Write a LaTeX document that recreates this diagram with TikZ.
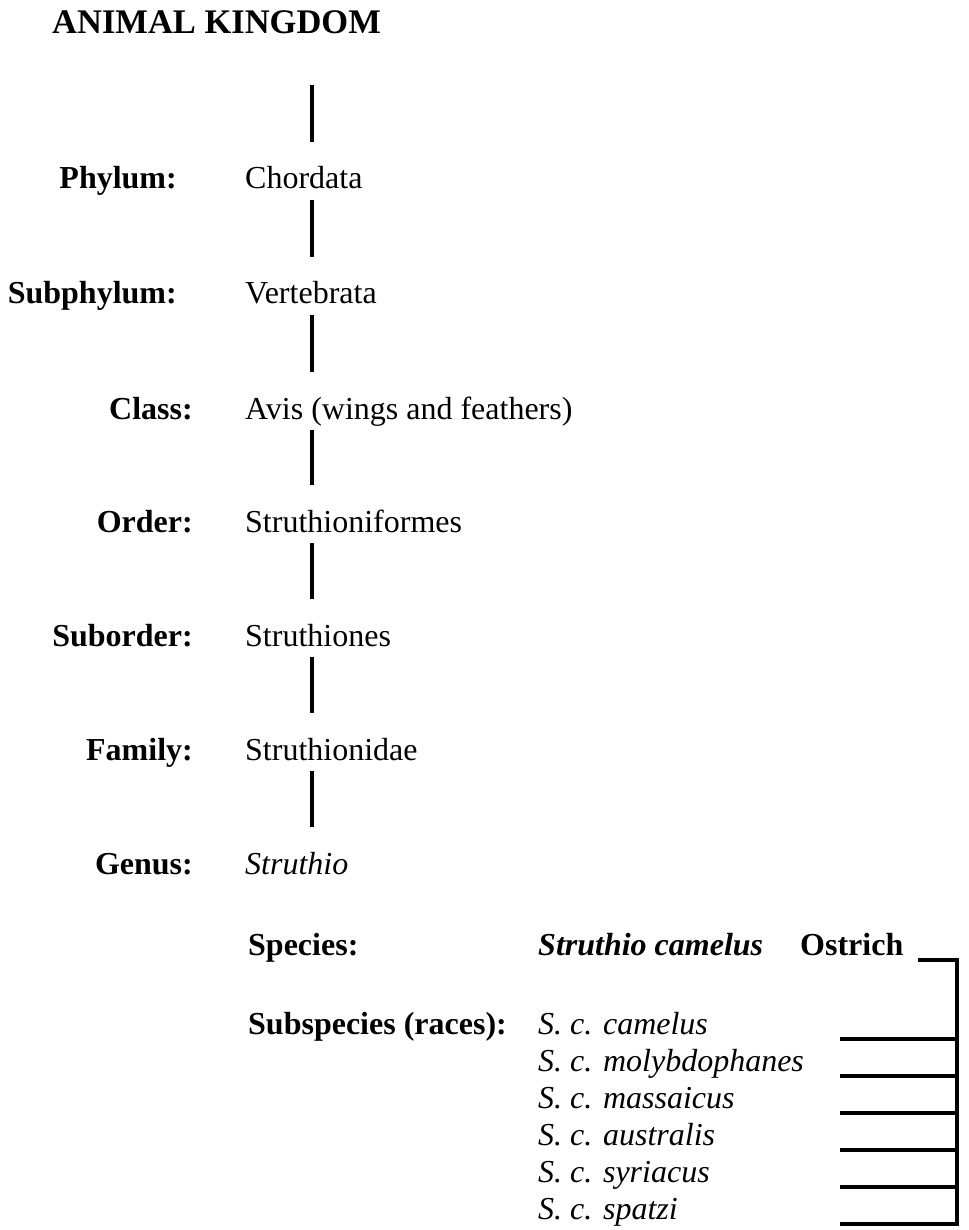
\documentclass[tikz,border=0pt]{standalone}
\usepackage{fontspec}
\setmainfont{Liberation Serif}

\tikzset{Rank/.style   = {font=\fontsize{32}{38}\selectfont\bfseries,
                          anchor=base east, inner sep=0pt},
         Taxon/.style  = {font=\fontsize{32}{38}\selectfont,
                          anchor=base west, inner sep=0pt,
                          text height=22pt, text depth=7pt},
         Race/.style   = {Taxon, font=\fontsize{32}{38}\selectfont\itshape},
         StemLine/.style = {line width=4.2pt, shorten <=4pt, shorten >=25pt},
         BarLine/.style  = {line width=4.2pt, line join=miter}}

\begin{document}
\begin{tikzpicture}[x=1pt,y=-1pt]

\useasboundingbox (0,0) rectangle (968,1230);

%%% title and the spine of the ranks
   \node[anchor=base west, inner sep=0pt, text depth=0pt,
         font=\fontsize{34.5}{40}\selectfont\bfseries] (kingdom) at (52,34) {ANIMAL KINGDOM};
   \coordinate (spine) at (312,0);

   \node[Rank]  (phylum)    at (177,189) {Phylum:};
   \node[Taxon] (chordata)  at (245,189) {Chordata};

   \node[Rank]  (subphylum) at (177,304) {Subphylum:};
   \node[Taxon] (vertebr)   at (245,304) {Vertebrata};

   \node[Rank]  (class)     at (193,419) {Class:};
   \node[Taxon] (avis)      at (245,419) {Avis (wings and feathers)};

   \node[Rank]  (order)     at (193,532) {Order:};
   \node[Taxon] (struthfm)  at (245,532) {Struthioniformes};

   \node[Rank]  (suborder)  at (193,646) {Suborder:};
   \node[Taxon] (struthns)  at (245,646) {Struthiones};

   \node[Rank]  (family)    at (193,760) {Family:};
   \node[Taxon] (struthdae) at (245,760) {Struthionidae};

   \node[Rank]  (genus)     at (193,874) {Genus:};
   \node[Taxon] (struthio)  at (245,874) {\itshape Struthio};

%%% species and its races
   \node[Taxon, font=\fontsize{32}{38}\selectfont\bfseries] (species) at (248,955) {Species:};
   \node[Taxon, font=\fontsize{32}{38}\selectfont\bfseries\itshape] (camelus) at (538,955) {Struthio camelus};
   \node[Taxon, font=\fontsize{32}{38}\selectfont\bfseries] (ostrich) at (800,955) {Ostrich};

   \node[Taxon, font=\fontsize{32}{38}\selectfont\bfseries] (subspecies) at (248,1034) {Subspecies (races):};
   \node[Race] (s1) at (538,1034) {S. c. camelus};
   \node[Race] (s2) at (538,1071) {S. c. molybdophanes};
   \node[Race] (s3) at (538,1108) {S. c. massaicus};
   \node[Race] (s4) at (538,1145) {S. c. australis};
   \node[Race] (s5) at (538,1182) {S. c. syriacus};
   \node[Race] (s6) at (538,1219) {S. c. spatzi};

%%% stems
   \draw[StemLine, shorten <=51pt] (kingdom.south -| spine) -- (chordata.north -| spine);
   \draw[StemLine] (chordata.south -| spine)  -- (vertebr.north -| spine);
   \draw[StemLine] (vertebr.south -| spine)   -- (avis.north -| spine);
   \draw[StemLine] (avis.south -| spine)      -- (struthfm.north -| spine);
   \draw[StemLine] (struthfm.south -| spine)  -- (struthns.north -| spine);
   \draw[StemLine] (struthns.south -| spine)  -- (struthdae.north -| spine);
   \draw[StemLine] (struthdae.south -| spine) -- (struthio.north -| spine);

%%% bracket of the races
   \coordinate (brtop) at (957,960);
   \coordinate (tickx) at (840,0);
   \draw[BarLine] ([xshift=14pt,yshift=-5pt]ostrich.base east) -- (brtop)
                  -- ([yshift=-7pt]s6.base -| brtop);
   \foreach \s in {s1,s2,s3,s4,s5,s6}
      \draw[BarLine] ([yshift=-5pt]\s.base -| tickx) -- ([yshift=-5pt]\s.base -| brtop);

\end{tikzpicture}
\end{document}
